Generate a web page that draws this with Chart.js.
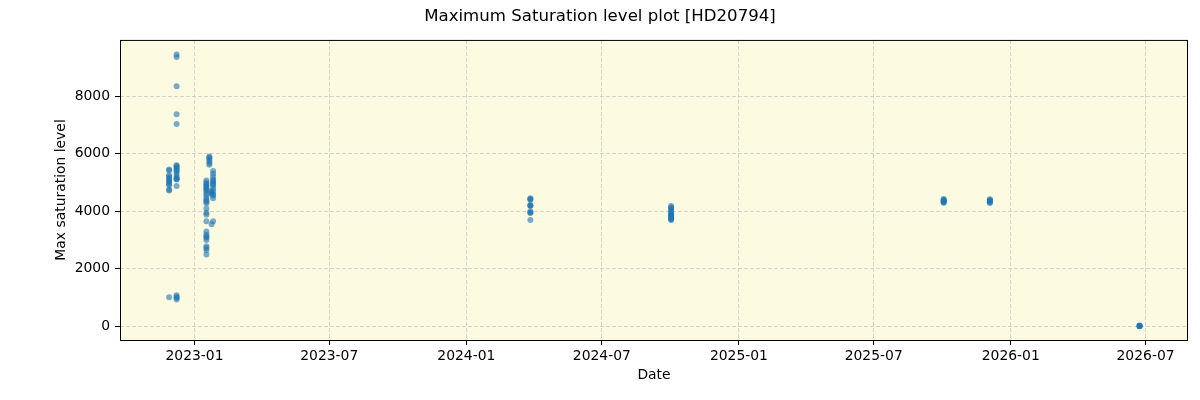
<!DOCTYPE html>
<html>
<head>
<meta charset="utf-8">
<script src="https://cdn.jsdelivr.net/npm/chart.js@4/dist/chart.umd.min.js"></script>
<style>
  html, body { margin: 0; padding: 0; background: #fff; }
  #wrap { width: 1200px; height: 400px; }
</style>
</head>
<body>
<div id="wrap"><canvas id="satChart" width="1200" height="400"></canvas></div>
<script>
/* ======================
   DATA
====================== */
const obsDates = [
    "2022-11-28", "2022-12-08", "2023-01-17", "2023-01-21", "2023-01-24",
    "2023-01-26", "2024-03-27", "2024-10-02", "2025-10-03", "2025-12-04",
    "2026-06-23"
];
const obsValues = [
    [5450, 5420, 5250, 5200, 5150, 5100, 5050, 5000, 4950, 4900, 4750, 4720, 1010],
    [9450, 9360, 8350, 7370, 7030, 5600, 5570, 5520, 5480, 5430, 5380, 5300, 5220,
     5150, 5120, 5100, 4880, 1080, 1020, 990, 930],
    [5070, 5000, 4950, 4900, 4850, 4800, 4750, 4700, 4620, 4550, 4450, 4380, 4330,
     4280, 4100, 3950, 3880, 3650, 3300, 3180, 3120, 3080, 3000, 2780, 2720, 2650, 2500],
    [5900, 5870, 5820, 5750, 5680, 5620],
    [4700, 4650, 4600, 3550],
    [5400, 5300, 5200, 5100, 5050, 5000, 4950, 4900, 4800, 4700, 4600, 4550, 4450, 3650],
    [4450, 4420, 4400, 4220, 4200, 4180, 3990, 3960, 3940, 3700],
    [4180, 4130, 4100, 4050, 4000, 3950, 3900, 3880, 3850, 3800, 3780, 3750, 3720, 3700],
    [4430, 4400, 4370, 4350, 4330, 4310, 4300],
    [4420, 4390, 4360, 4340, 4310, 4290],
    [30, 20, 10, 0, 0]
];
const xTickLabels = ["2023-01", "2023-07", "2024-01", "2024-07", "2025-01", "2025-07", "2026-01", "2026-07"];
const yTickValues = [0, 2000, 4000, 6000, 8000];

/* ======================
   HELPERS
====================== */
const toMs = s => Date.parse(s.length === 7 ? s + "-01T00:00:00Z" : s + "T00:00:00Z");

const points = [];
obsDates.forEach((d, i) => {
    obsValues[i].forEach(v => points.push({ x: toMs(d), y: v }));
});

const xTicks = xTickLabels.map(toMs);

// plot background + frame
const frame = {
    id: "frame",
    beforeDraw(chart) {
        const a = chart.chartArea, ctx = chart.ctx;
        ctx.save();
        ctx.fillStyle = "#fcfbe2";
        ctx.fillRect(a.left, a.top, a.right - a.left, a.bottom - a.top);
        ctx.restore();
    },
    afterDraw(chart) {
        const a = chart.chartArea, ctx = chart.ctx;
        ctx.save();
        ctx.strokeStyle = "#000";
        ctx.lineWidth = 1;
        ctx.strokeRect(a.left + 0.5, a.top + 0.5, a.right - a.left - 1, a.bottom - a.top);
        ctx.restore();
    }
};

const font = { family: "'DejaVu Sans', sans-serif", size: 13.9 };
const gridOpts = {
    color: "rgba(200,200,200,0.8)",
    tickColor: "#000",
    tickLength: 5,
    tickBorderDash: []
};
const borderOpts = { display: false, dash: [4, 2] };

/* ======================
   CHART
====================== */
new Chart(document.getElementById("satChart"), {
    type: "scatter",
    data: {
        datasets: [{
            data: points,
            backgroundColor: "rgba(31,119,180,0.6)",
            borderWidth: 0,
            pointRadius: 3,
            pointHoverRadius: 3
        }]
    },
    options: {
        responsive: false,
        animation: false,
        layout: { padding: { left: 12, right: 12, top: 0, bottom: 0 } },
        plugins: {
            legend: { display: false },
            tooltip: { enabled: false },
            title: {
                display: true,
                text: "Maximum Saturation level plot [HD20794]",
                color: "#000",
                font: { family: "'DejaVu Sans', sans-serif", size: 16.6, weight: "normal" },
                padding: { top: 6.5, bottom: 13.5 }
            }
        },
        scales: {
            x: {
                type: "linear",
                min: Date.parse("2022-09-23T00:00:00Z"),
                max: Date.parse("2026-08-27T00:00:00Z"),
                afterBuildTicks: s => { s.ticks = xTicks.map(v => ({ value: v })); },
                afterFit: s => { s.height = 60; },
                grid: gridOpts,
                border: borderOpts,
                ticks: {
                    color: "#000",
                    font: font,
                    padding: 3,
                    maxRotation: 0,
                    autoSkip: false,
                    callback: v => xTickLabels[xTicks.indexOf(v)]
                },
                title: {
                    display: true,
                    text: "Date",
                    color: "#000",
                    font: font,
                    padding: { top: 0, bottom: 16 }
                }
            },
            y: {
                min: -477,
                max: 9958,
                afterBuildTicks: s => { s.ticks = yTickValues.map(v => ({ value: v })); },
                afterFit: s => { s.width = 108; },
                grid: gridOpts,
                border: borderOpts,
                ticks: {
                    color: "#000",
                    font: font,
                    padding: 5,
                    callback: v => String(v)
                },
                title: {
                    display: true,
                    text: "Max saturation level",
                    color: "#000",
                    font: font,
                    padding: { top: 41, bottom: 0 }
                }
            }
        }
    },
    plugins: [frame]
});
</script>
</body>
</html>
